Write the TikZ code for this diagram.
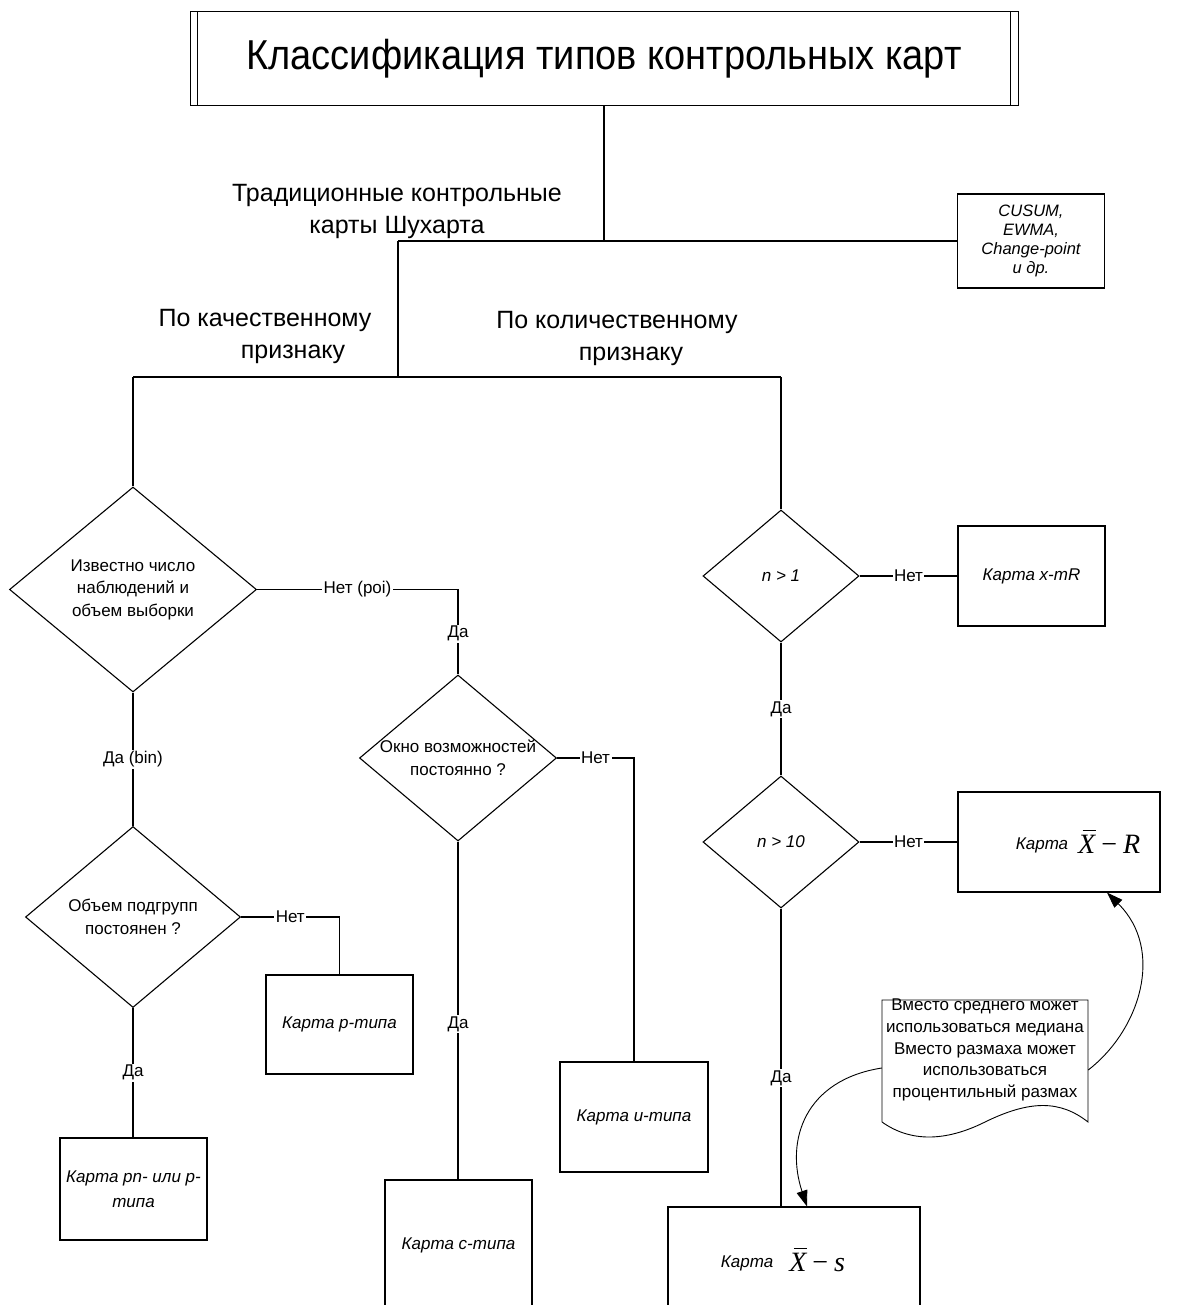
\documentclass[tikz,border=0pt]{standalone}
\usepackage{fontspec}
\setmainfont{Liberation Sans}
\newfontfamily\tms{Liberation Serif}
\usetikzlibrary{shapes.geometric,arrows.meta}
\newcommand\ovX{\leavevmode\rlap{\hspace{4.5pt}\rule[22.5pt]{13pt}{1.3pt}}X}
\newcommand\frmla[1]{{\tms\itshape\fontsize{28}{32}\selectfont\ovX\hspace{6pt}{\upshape −}\hspace{6pt}#1}}
\begin{document}
\begin{tikzpicture}[x=1pt,y=-1pt,
  every node/.style={inner sep=0pt},
  ln/.style={line width=1.1pt},
  box/.style={draw, line width=1.1pt, rectangle, align=center, font=\fontsize{17}{22}\selectfont\itshape},
  dia/.style={draw, line width=1.1pt, diamond},
  dtext/.style={align=center, font=\fontsize{17}{22.5}\selectfont},
  lbl/.style={fill=white, inner sep=1.5pt, font=\fontsize{17}{20}\selectfont},
  head/.style={align=center, font=\fontsize{25}{32}\selectfont},
  arr/.style={line width=0.9pt, -{Triangle[length=16pt,width=11pt]}}
]
\clip (0,0) rectangle (1184,1305);
\fill[white] (0,0) rectangle (1184,1305);

% title
\node[draw, line width=1pt, minimum width=828pt, minimum height=94pt,
      font=\fontsize{38}{44}\selectfont] (title) at (604,59) {\scalebox{1}[1.1]{Классификация типов контрольных карт}};
\draw[line width=1pt] ([xshift=8pt]title.north west) -- ([xshift=8pt]title.south west);
\draw[line width=1pt] ([xshift=-8pt]title.north east) -- ([xshift=-8pt]title.south east);

% junctions
\coordinate (j1) at (604,241);
\coordinate (j2) at (398,241);
\coordinate (j3) at (398,377);
\coordinate (jl) at (133,377);
\coordinate (jr) at (781,377);
\coordinate (c1) at (458,589.5);
\coordinate (c2) at (634,758);
\coordinate (c3) at (339.5,917);

% CUSUM
\node[box, minimum width=147pt, minimum height=94pt, font=\fontsize{16.5}{19}\selectfont\itshape]
  (cusum) at (1031,241) {CUSUM,\\EWMA,\\Change-point\\и др.};

% headings
\node[head] (h1) at (397,211) {Традиционные контрольные\\карты Шухарта};
\node[head] (h2) at (265,336) {По качественному\\\hspace*{56pt}признаку};
\node[head] (h3) at (617,338) {По количественному\\\hspace*{28pt}признаку};

% diamonds
\node[dia, minimum width=247pt, minimum height=205pt] (d1) at (133,589.5) {};
\node[dtext] at (d1) {Известно число\\наблюдений и\\объем выборки};
\node[dia, minimum width=197pt, minimum height=166pt] (d2) at (458,758) {};
\node[dtext] at (d2) {Окно возможностей\\постоянно ?};
\node[dia, minimum width=215pt, minimum height=181pt] (d3) at (133,917) {};
\node[dtext] at (d3) {Объем подгрупп\\постоянен ?};
\node[dia, minimum width=156pt, minimum height=132pt] (d4) at (781,576) {};
\node[dtext, font=\fontsize{17}{22}\selectfont\itshape] at (d4) {n > 1};
\node[dia, minimum width=156pt, minimum height=132pt] (d5) at (781,842) {};
\node[dtext, font=\fontsize{17}{22}\selectfont\itshape] at (d5) {n > 10};

% boxes
\node[box, minimum width=147pt, minimum height=100pt] (xmr) at (1031.5,576) {Карта x-mR};
\node[box, minimum width=202pt, minimum height=100pt] (xr) at (1059,842)
  {\hspace*{38pt}\raisebox{4pt}{Карта}\hspace{10pt}\frmla{R}};
\node[box, minimum width=252pt, minimum height=106pt] (xs) at (794,1260)
  {\hspace*{-22pt}\raisebox{4pt}{Карта}\hspace{16pt}\frmla{s}};
\node[box, minimum width=147pt, minimum height=130pt] (c) at (458.5,1245) {Карта c-типа};
\node[box, minimum width=148pt, minimum height=110pt] (u) at (634,1117) {Карта u-типа};
\node[box, minimum width=147pt, minimum height=99pt] (p) at (339.5,1024.5) {Карта p-типа};
\node[box, minimum width=147pt, minimum height=102pt, font=\fontsize{17}{25}\selectfont\itshape] (pn) at (133.5,1189) {Карта pn- или p-\\типа};

% connectors
\draw[ln] (title.south) -- (j1);
\draw[ln] (j2) -- (cusum.west);
\draw[ln] (j2) -- (j3);
\draw[ln] (jl) -- (jr);
\draw[ln] (jl) -- (d1.north);
\draw[ln] (jr) -- (d4.north);

\draw[ln] (d1.east) -- node[lbl]{Нет (poi)} (c1) -- node[lbl, pos=0.52]{Да} (d2.north);
\draw[ln] (d1.south) -- node[lbl]{Да (bin)} (d3.north);
\draw[ln] (d3.east) -- node[lbl]{Нет} (c3) -- (p.north);
\draw[ln] (d3.south) -- node[lbl]{Да} (d3.south |- pn.north);
\draw[ln] (d2.east) -- node[lbl]{Нет} (c2) -- (u.north);
\draw[ln] (d2.south) -- node[lbl, pos=0.54]{Да} (d2.south |- c.north);
\draw[ln] (d4.east) -- node[lbl]{Нет} (xmr.west);
\draw[ln] (d4.south) -- node[lbl]{Да} (d5.north);
\draw[ln] (d5.east) -- node[lbl]{Нет} (xr.west);
\draw[ln] (d5.south) -- node[lbl, pos=0.57]{Да} (d5.south |- xs.north);

% note (document shape)
\draw[line width=0.9pt, fill=white] (882,1122) -- (882,1000) -- (1088,1000) -- (1088,1122)
  .. controls (1060,1100) and (1030,1100) .. (985,1122)
  .. controls (945,1142) and (910,1142) .. (882,1122);
\node[align=center, minimum width=206pt, minimum height=100pt, font=\fontsize{17}{21.7}\selectfont]
  (note) at (985,1050) {Вместо среднего может\\использоваться медиана\\Вместо размаха может\\использоваться\\процентильный размах};

\draw[arr] ([yshift=-20pt]note.east) .. controls (1140,1030) and (1165,950) .. ([xshift=48pt]xr.south);
\draw[arr] ([yshift=-18pt]note.west) .. controls (805,1080) and (785,1140) .. ([xshift=13pt]xs.north);
\end{tikzpicture}
\end{document}
